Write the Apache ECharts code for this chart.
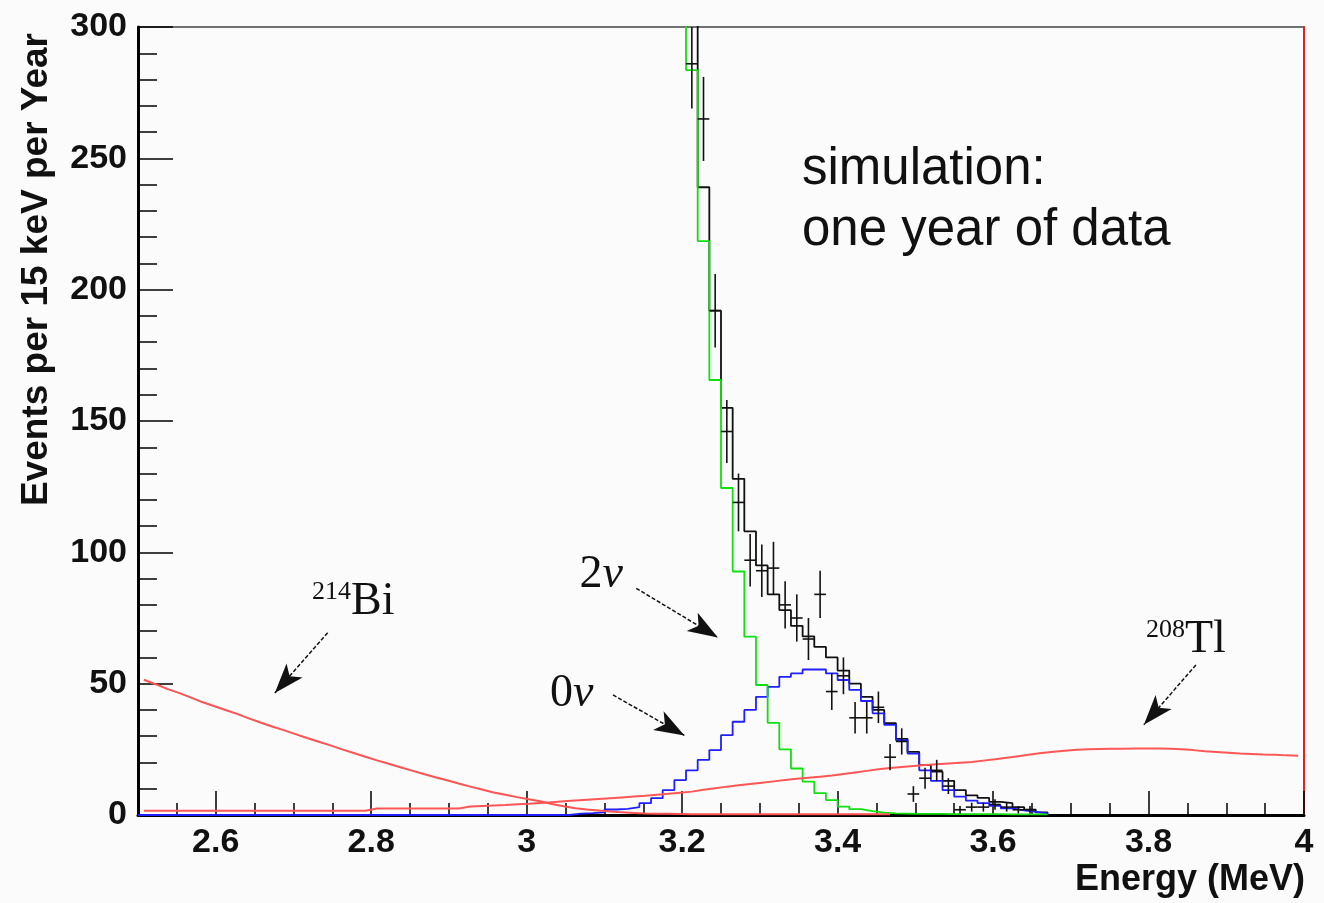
<!DOCTYPE html>
<html>
<head>
<meta charset="utf-8">
<title>Energy spectrum, one year of simulated data</title>
<script src="https://cdn.jsdelivr.net/npm/echarts@6/dist/echarts.min.js"></script>
<style>
  html, body { margin: 0; padding: 0; background: #fbfbfb; }
  #chart { width: 1324px; height: 903px; }
</style>
</head>
<body>
<div id="chart"></div>
<script>
// histogram binning: 15 keV bins starting at 2.5 MeV
const BIN_START = 2.5;
const BIN_WIDTH = 0.015;
const Y_MAX = 300;

const majorTicks = [2.6, 2.8, 3.0, 3.2, 3.4, 3.6, 3.8, 4.0];
const minorTicks = [2.55, 2.65, 2.7, 2.75, 2.85, 2.9, 2.95, 3.05, 3.1, 3.15, 3.25, 3.3, 3.35,
  3.45, 3.5, 3.55, 3.65, 3.7, 3.75, 3.85, 3.9, 3.95];

// 214Bi background, bins from 2.5 MeV
const bi214 = [
  51.5, 49.8, 48, 46.5, 44.8, 43, 41.5, 40, 38.5, 36.8,
  35.2, 33.7, 32.3, 30.8, 29.3, 27.9, 26.5, 25, 23.6, 22.2,
  20.8, 19.5, 18.2, 16.9, 15.6, 14.4, 13.2, 12, 10.8, 9.7,
  8.6, 7.7, 6.8, 6, 5.2, 4.2, 3.3, 2.6, 2.1, 1.7,
  1.3, 1, 0.8, 0.6, 0.5, 0.5, 0.4, 0.3, 0.3, 0.3,
  0.3, 0.3, 0.3, 0.3, 0.3, 0.3, 0.3, 0.3, 0.3, 0.3,
  0.3, 0.3, 0.3, 0.3, 0.3
];

// 208Tl background, bins from 2.5 MeV
const tl208 = [
  1.6, 1.6, 1.6, 1.6, 1.6, 1.6, 1.6, 1.6, 1.6, 1.6,
  1.6, 1.6, 1.6, 1.6, 1.6, 1.6, 1.6, 1.6, 1.6, 1.6,
  2.5, 2.5, 2.5, 2.5, 2.5, 2.5, 2.5, 2.5, 3.2, 3.4,
  3.6, 3.8, 4.1, 4.3, 4.6, 4.9, 5.2, 5.5, 5.8, 6.1,
  6.4, 6.7, 7.0, 7.3, 7.7, 8.1, 8.5, 8.9, 9.6, 10.2,
  10.8, 11.3, 11.8, 12.3, 12.8, 13.3, 13.8, 14.2, 14.6, 15.0,
  15.6, 16.2, 16.8, 17.4, 17.9, 18.3, 18.7, 19.0, 19.3, 19.6,
  19.9, 20.2, 20.7, 21.2, 21.8, 22.4, 23.0, 23.6, 24.1, 24.5,
  24.8, 25.0, 25.1, 25.2, 25.2, 25.3, 25.3, 25.3, 25.2, 25.0,
  24.7, 24.3, 24.0, 23.7, 23.4, 23.2, 23.0, 22.9, 22.7, 22.6
];

// 0 neutrino signal, bins from 2.5 MeV
const zeroNu = [
  0, 0, 0, 0, 0, 0, 0, 0, 0, 0,
  0, 0, 0, 0, 0, 0, 0, 0, 0, 0,
  0, 0, 0, 0, 0, 0, 0, 0, 0, 0,
  0, 0, 0, 0, 0, 0, 0,
  0.5, 0.7, 1.0, 2.1, 2.3, 3.0, 4.5, 6.4, 9.5, 13.3,
  17, 21, 24.7, 30.4, 35.5, 40, 45, 48.8, 52.6, 53.9,
  55.4, 55.4, 53.9, 51.4, 47.6, 43.4, 38.7, 34.3, 28.5, 23.4,
  17, 13, 9.5, 7, 5.5, 4.5, 3.5, 2.5, 1.8, 1.2,
  0.6
];

// 2 neutrino background, bins from 3.175 MeV (off scale below)
const twoNuStart = 3.175;
const twoNu = [
  360, 330, 283.6, 218.5, 165.6, 124.5, 92.7, 67.9, 49.5, 35.1,
  25, 17.7, 12.7, 8.3, 5.7, 3.2, 2.2, 1.5, 0.9, 0.6,
  0.5, 0.4, 0.4, 0.4, 0.3, 0.3, 0.3, 0.3, 0.3, 0.2,
  0.2, 0.2, 0.2
];

// sum histogram, bins from 3.19 MeV
const totalStart = 3.19;
const total = [
  330, 315, 239, 192, 155, 128, 108, 95, 84, 78,
  72, 68, 64, 60, 55, 50, 45, 40, 35, 29,
  24, 19, 16.5, 13, 9.5, 7.5, 6.5, 5, 4.5, 3,
  2, 1
];

// simulated data points (bin start, counts, error)
const pointBins = [3.205, 3.22, 3.235, 3.25, 3.265, 3.28, 3.295, 3.31, 3.325, 3.34,
  3.355, 3.37, 3.385, 3.4, 3.415, 3.43, 3.445, 3.46, 3.475, 3.49,
  3.505, 3.52, 3.535, 3.55, 3.565, 3.58, 3.595, 3.61, 3.625, 3.64];
const pointCounts = [286, 265, 192, 146, 119, 97, 93, 94, 80, 75,
  67, 84, 47, 53, 37, 37, 41, 22, 28, 8,
  14, 17, 11, 2, 3, 3, 4, 3, 2, 2];
const pointErrors = [17, 16, 14, 12, 11, 10, 10, 10, 9, 9,
  8, 9, 7, 7, 6, 6, 6, 5, 5, 3,
  4, 4, 3, 1.4, 1.7, 1.7, 2, 1.7, 1.4, 1.4];

// annotation arrows [tail, head] in data coords
const arrows = [
  [[2.744, 69.4], [2.676, 46.4]],
  [[3.141, 86.3], [3.246, 67.6]],
  [[3.111, 45.7], [3.203, 30.3]],
  [[3.861, 57.1], [3.794, 34.4]]
];
const labelTexts = ['{s|214}{b|Bi}', '{b|2}{v|\u03bd}', '{b|0}{v|\u03bd}', '{s|208}{b|Tl}'];
const labelCoords = [[2.777, 81.1], [3.096, 91.5], [3.058, 46.1], [3.848, 66.6]];

const SANS = '"Liberation Sans", Arial, sans-serif';
const SERIF = '"Liberation Serif", "Times New Roman", serif';

// step outline of a histogram: one point per bin low edge, closed at the last high edge
const stepPoints = (start, values) => {
  const pts = values.map((v, i) => [start + i * BIN_WIDTH, v]);
  pts.push([start + values.length * BIN_WIDTH, 0]);
  return pts;
};
// smooth outline: one point per bin centre
const centrePoints = (start, values) => values.map((v, i) => [start + (i + 0.5) * BIN_WIDTH, v]);

const lineSeries = (name, data, color, step) => ({
  name: name,
  type: 'line',
  step: step ? 'end' : false,
  data: data,
  showSymbol: false,
  symbol: 'none',
  clip: true,
  silent: true,
  animation: false,
  lineStyle: { color: color, width: step ? 1.8 : 2 }
});

const chart = echarts.init(document.getElementById('chart'));

const tlSeries = lineSeries('208Tl', centrePoints(BIN_START, tl208), '#ff5656', false);
tlSeries.markLine = {
  silent: true,
  animation: false,
  symbol: ['none', 'arrow'],
  label: { show: false },
  lineStyle: { color: '#111', width: 1.5, type: [4, 2] },
  emphasis: { disabled: true },
  data: arrows.map(a => [
    { coord: a[0], symbol: 'none' },
    { coord: a[1], symbol: 'arrow', symbolSize: [16, 30] }
  ])
};
tlSeries.markPoint = {
  silent: true,
  animation: false,
  symbol: 'circle',
  symbolSize: 1,
  itemStyle: { color: 'rgba(0,0,0,0)' },
  label: {
    show: true, position: 'inside', color: '#111', fontFamily: SERIF,
    rich: {
      s: { fontFamily: SERIF, fontSize: 26, color: '#111', verticalAlign: 'top', lineHeight: 26 },
      b: { fontFamily: SERIF, fontSize: 46, color: '#111', lineHeight: 46 },
      v: { fontFamily: SERIF, fontSize: 46, color: '#111', fontStyle: 'italic', lineHeight: 46 }
    }
  },
  data: labelCoords.map((c, i) => ({ coord: c, label: { formatter: labelTexts[i] } }))
};

chart.setOption({
  backgroundColor: '#fbfbfb',
  animation: false,
  grid: {
    left: 138, right: 20, top: 27, bottom: 88,
    show: true, borderColor: '#444', borderWidth: 1.5, backgroundColor: 'transparent'
  },
  xAxis: [
    {
      type: 'value', min: 2.5, max: 4, position: 'bottom',
      axisLine: { lineStyle: { color: '#000', width: 3 } },
      axisTick: { show: true, inside: true, length: 24, customValues: majorTicks,
        lineStyle: { color: '#000', width: 1.5 } },
      axisLabel: { customValues: majorTicks, fontFamily: SANS, fontWeight: 'bold', fontSize: 34,
        color: '#111', margin: 11, formatter: v => String(+(+v).toFixed(1)) },
      splitLine: { show: false }
    },
    {
      type: 'value', min: 2.5, max: 4, position: 'bottom', offset: 0,
      axisLine: { show: false },
      axisTick: { show: true, inside: true, length: 12, customValues: minorTicks,
        lineStyle: { color: '#000', width: 1.5 } },
      axisLabel: { show: false },
      splitLine: { show: false }
    }
  ],
  yAxis: [
    {
      type: 'value', min: 0, max: Y_MAX, interval: 50,
      axisLine: { show: true, lineStyle: { color: '#000', width: 3 } },
      axisTick: { show: true, inside: true, length: 35, lineStyle: { color: '#000', width: 1.5 } },
      minorTick: { show: true, splitNumber: 5, length: 19, lineStyle: { color: '#000', width: 1.5 } },
      axisLabel: { fontFamily: SANS, fontWeight: 'bold', fontSize: 34, color: '#111', margin: 11 },
      splitLine: { show: false }
    },
    {
      type: 'value', min: 0, max: Y_MAX, position: 'right',
      axisLine: { show: true, lineStyle: { color: '#e8201c', width: 2 } },
      axisTick: { show: false },
      axisLabel: { show: false },
      splitLine: { show: false }
    }
  ],
  graphic: [
    {
      type: 'text', x: 37, y: 33, rotation: Math.PI / 2,
      style: { text: 'Events per 15 keV per Year', font: 'bold 37px ' + SANS,
        fill: '#111', align: 'right', verticalAlign: 'middle' }
    },
    {
      type: 'text', right: 19, top: 862,
      style: { text: 'Energy (MeV)', font: 'bold 36px ' + SANS, fill: '#111' }
    },
    {
      type: 'text', left: 802, top: 139,
      style: { text: 'simulation:\none year of data', font: '51px ' + SANS,
        lineHeight: 61, fill: '#111' }
    }
  ],
  series: [
    lineSeries('total', stepPoints(totalStart, total), '#111', true),
    lineSeries('0\u03bd', stepPoints(BIN_START, zeroNu), '#1f1fff', true),
    lineSeries('2\u03bd', stepPoints(twoNuStart, twoNu), '#10e010', true),
    lineSeries('214Bi', centrePoints(BIN_START, bi214), '#ff5252', false),
    tlSeries,
    {
      name: 'data',
      type: 'custom',
      silent: true,
      animation: false,
      clip: true,
      z: 5,
      data: pointBins.map((b, i) => [b + BIN_WIDTH / 2, pointCounts[i], pointErrors[i]]),
      renderItem: (params, api) => {
        const x = api.value(0), y = api.value(1), e = api.value(2);
        const top = api.coord([x, Math.min(y + e, Y_MAX)]);
        const bottom = api.coord([x, Math.max(y - e, 0)]);
        const left = api.coord([x - BIN_WIDTH / 2, y]);
        const right = api.coord([x + BIN_WIDTH / 2, y]);
        const style = { stroke: '#111', lineWidth: 1.6 };
        return {
          type: 'group',
          children: [
            { type: 'line', shape: { x1: top[0], y1: top[1], x2: bottom[0], y2: bottom[1] }, style: style },
            { type: 'line', shape: { x1: left[0], y1: left[1], x2: right[0], y2: right[1] }, style: style }
          ]
        };
      }
    }
  ]
});
</script>
</body>
</html>
